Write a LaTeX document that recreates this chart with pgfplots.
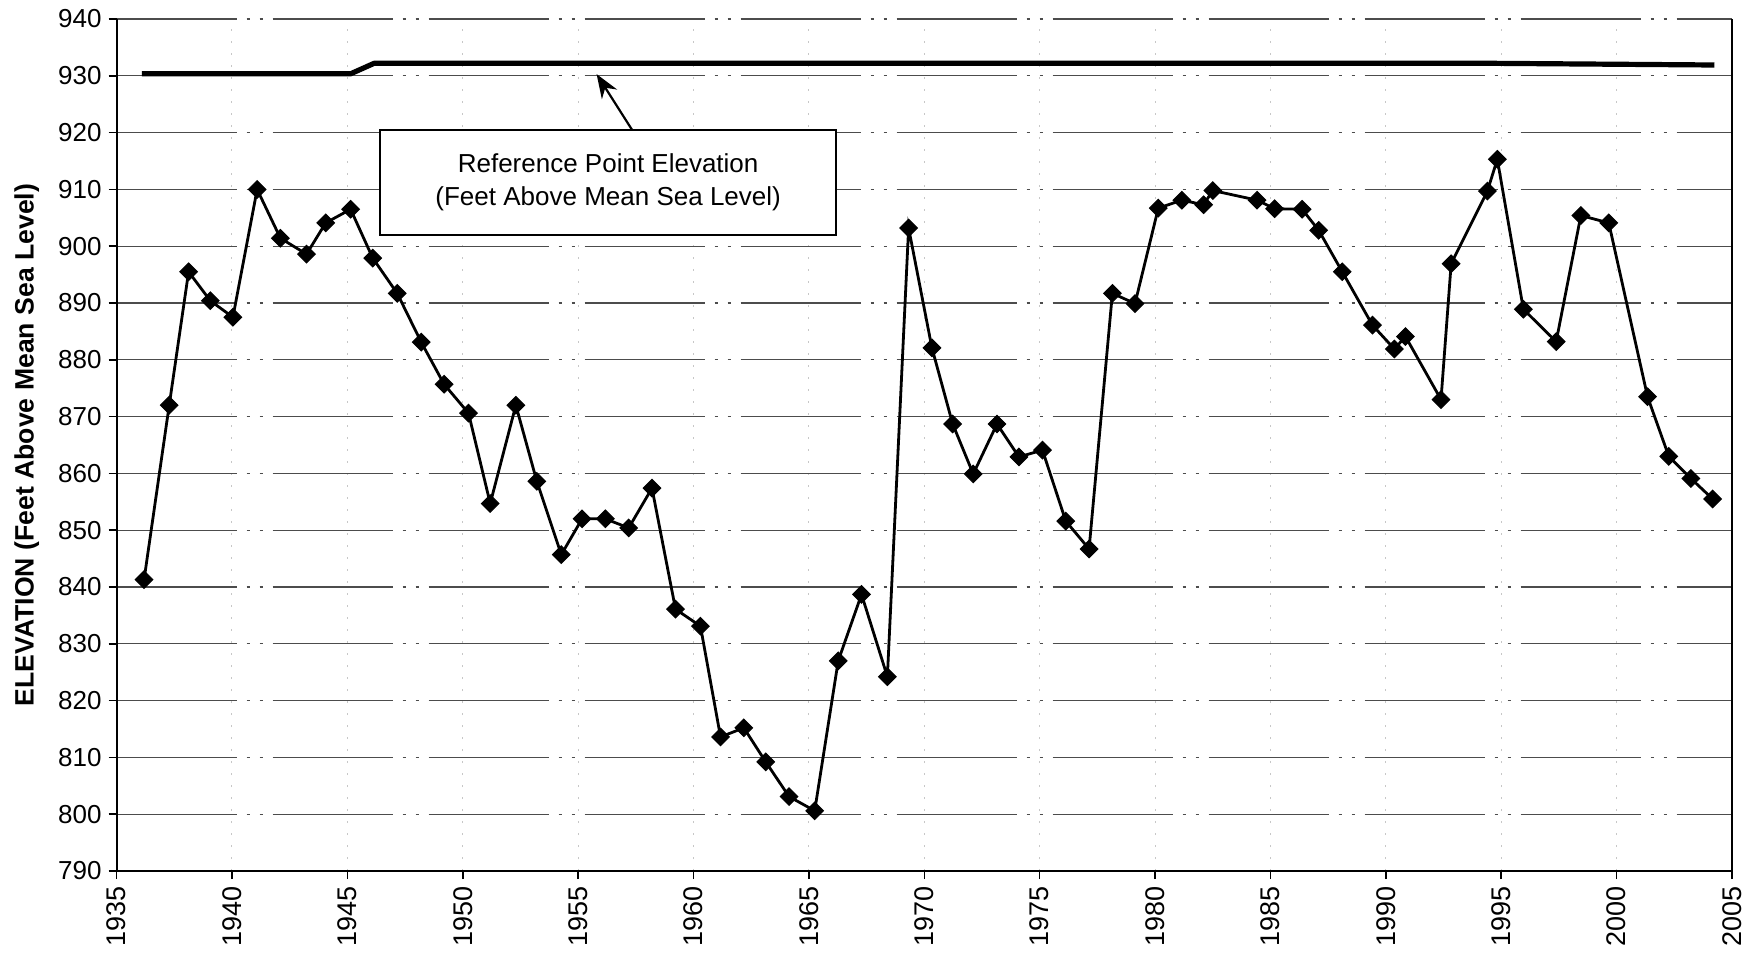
\documentclass[border=0pt]{standalone}
\usepackage{fontspec}
\setmainfont{Liberation Sans}
\usepackage{pgfplots}
\pgfplotsset{compat=1.18}
\usetikzlibrary{arrows.meta}
\begin{document}
\begin{tikzpicture}
\useasboundingbox (0,0) rectangle (877pt,476.5pt);
\begin{axis}[
  at={(58.3pt,41pt)}, anchor=south west,
  scale only axis, width=807.7pt, height=426pt,
  xmin=1935, xmax=2005, ymin=790, ymax=940,
  xtick={1935,1940,...,2005}, ytick={790,800,...,940},
  axis x line*=bottom, axis y line*=left,
  axis line style={line width=1pt, -},
  tick align=outside, tick style={black, line width=0.8pt}, major tick length=4pt,
  /pgf/number format/assume math mode=true,
  /pgf/number format/1000 sep={},
  xticklabel style={rotate=90, anchor=east, font=\fontsize{13.5}{13.5}\selectfont},
  yticklabel style={font=\fontsize{13}{13}\selectfont},
  ymajorgrids, xmajorgrids,
  y grid style={black!70, line width=0.6pt, dash pattern={on 60pt off 5pt on 1.5pt off 5pt on 1.5pt off 5pt}},
  x grid style={black!22, line width=0.5pt, dash pattern={on 1pt off 5pt}},
  ylabel={\textbf{ELEVATION (Feet Above Mean Sea Level)}},
  ylabel style={at={(axis description cs:-0.0556,0.5)}, anchor=center, font=\fontsize{13.3}{13.3}\selectfont},
  clip=false,
]
\draw[line width=1pt] (rel axis cs:1,0) -- (rel axis cs:1,1);

% reference point elevation line
\addplot[black, line width=2.6pt, line join=round] coordinates {
(1936.09,930.35) (1945.14,930.35) (1946.16,932.2) (1994.5,932.2) (2004.24,931.9)
};

% water level elevation
\addplot[black, line width=1.4pt, mark=square*, mark size=3.1pt, mark options={rotate=45, fill=black, line width=0.5pt}] coordinates {
(1936.19,841.3) (1937.28,872.0) (1938.12,895.5) (1939.06,890.4) (1940.04,887.5)
(1941.09,910.0) (1942.10,901.4) (1943.23,898.6) (1944.06,904.1) (1945.14,906.5)
(1946.10,897.9) (1947.16,891.7) (1948.20,883.1) (1949.19,875.7) (1950.25,870.6)
(1951.19,854.7) (1952.30,872.0) (1953.21,858.6) (1954.27,845.7) (1955.17,852.0)
(1956.18,852.0) (1957.19,850.4) (1958.20,857.4) (1959.22,836.1) (1960.30,833.1)
(1961.17,813.6) (1962.18,815.2) (1963.13,809.2) (1964.14,803.1) (1965.25,800.6)
(1966.27,827.0) (1967.28,838.7) (1968.40,824.2) (1969.32,903.2) (1970.33,882.1)
(1971.23,868.7) (1972.12,859.9) (1973.15,868.7) (1974.10,862.9) (1975.12,864.1)
(1976.13,851.6) (1977.14,846.7) (1978.15,891.7) (1979.13,889.9) (1980.14,906.7)
(1981.16,908.1) (1982.10,907.3) (1982.50,909.8) (1984.42,908.1) (1985.18,906.6)
(1986.37,906.5) (1987.09,902.8) (1988.11,895.5) (1989.42,886.1) (1990.37,881.9)
(1990.85,884.1) (1992.39,873.0) (1992.83,896.9) (1994.40,909.7) (1994.83,915.3)
(1995.96,888.9) (1997.38,883.2) (1998.45,905.4) (1999.66,904.1) (2001.34,873.5)
(2002.26,863.0) (2003.22,859.1) (2004.16,855.5)
};

\draw[black, line width=1.1pt, -{Stealth[length=12pt, width=9pt]}] (axis cs:1957.34,920.46) -- (axis cs:1955.8,930.3);
\node[draw=black, line width=1pt, fill=white, minimum width=228pt, minimum height=52.5pt, align=center, inner sep=0pt,
  font=\fontsize{13}{16.5}\selectfont] at (axis cs:1956.3,911.2)
  {Reference Point Elevation\\(Feet Above Mean Sea Level)};
\end{axis}
\end{tikzpicture}
\end{document}
